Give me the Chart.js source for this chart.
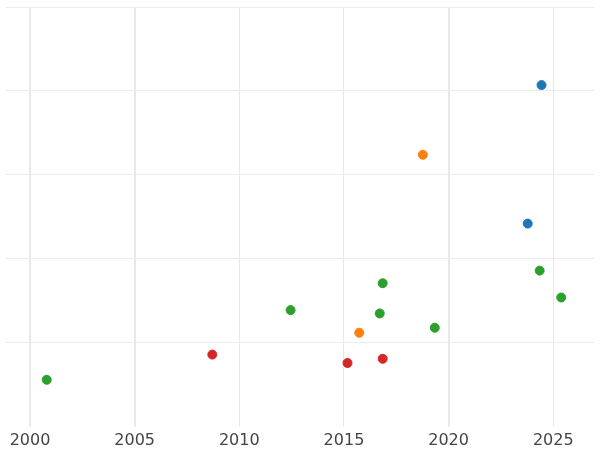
<!DOCTYPE html>
<html><head><script src="https://cdn.jsdelivr.net/npm/chart.js@4"></script>
<style>html,body{margin:0;padding:0;background:#fff}#w{width:600px;height:450px}</style></head>
<body><div id="w"><canvas id="c"></canvas></div>
<script>
const blueX=[2024.44,2023.78], blueY=[4.07,2.42];
const orangeX=[2018.77,2015.73], orangeY=[3.24,1.12];
const greenX=[2000.80,2012.45,2016.85,2016.71,2019.34,2024.35,2025.38], greenY=[0.56,1.39,1.71,1.35,1.18,1.86,1.54];
const redX=[2008.71,2015.17,2016.85], redY=[0.86,0.76,0.81];
const xTicks=[2000,2005,2010,2015,2020,2025];
const pts=(xs,ys)=>xs.map((x,i)=>({x,y:ys[i]}));
const ds=(xs,ys,c)=>({data:pts(xs,ys),backgroundColor:c,borderColor:c,pointRadius:4.5,pointHoverRadius:4.5});
new Chart(document.getElementById('c'),{type:'scatter',
data:{datasets:[ds(blueX,blueY,'#1f77b4'),ds(orangeX,orangeY,'#ff7f0e'),ds(greenX,greenY,'#2ca02c'),ds(redX,redY,'#d62728')]},
options:{responsive:true,maintainAspectRatio:false,animation:false,
layout:{padding:{left:0,right:0,top:7,bottom:0}},
plugins:{legend:{display:false},tooltip:{enabled:false}},
scales:{
x:{type:'linear',min:1998.83,max:2026.97,afterBuildTicks:a=>{a.ticks=xTicks.map(v=>({value:v}));},
 afterFit:s=>{s.paddingLeft=0;s.paddingRight=0;},
 grid:{color:'#e8e8e8',lineWidth:c=>([2000,2005,2020].includes(c.tick&&c.tick.value)?2:1),drawTicks:true,tickLength:4,tickColor:'rgba(0,0,0,0)'},border:{display:false},
 ticks:{color:'#444',font:{family:'DejaVu Sans',size:16},padding:0,maxRotation:0,callback:v=>String(v)}},
y:{min:0,max:5,afterFit:s=>{s.width=0;},ticks:{display:false,stepSize:1},border:{display:false},
 grid:{drawTicks:false,color:c=>c.tick&&c.tick.value===0?'rgba(0,0,0,0)':'#ececec'}}
}}});
</script></body></html>
